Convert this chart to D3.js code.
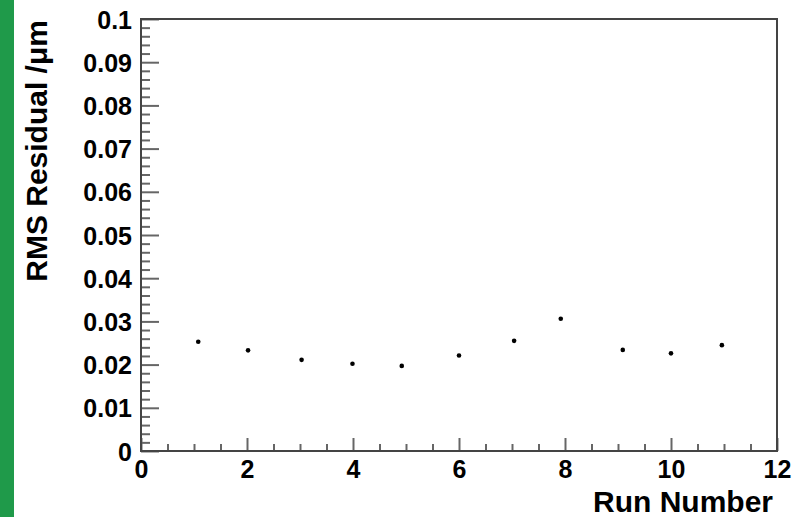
<!DOCTYPE html>
<html>
<head>
<meta charset="utf-8">
<script src="https://cdn.jsdelivr.net/npm/d3@7"></script>
<style>
  body { margin: 0; background: #fff; }
  svg { display: block; font-family: "Liberation Sans", Arial, sans-serif; font-weight: bold; }
  .tick text { font-weight: bold; fill: #000; }
</style>
</head>
<body>
<svg width="798" height="517"></svg>
<script>
// run number and rms residual
var runNumber = [1.08, 2.02, 3.03, 3.99, 4.92, 6.0, 7.04, 7.92, 9.09, 10.0, 10.96]
var rmsResidual = [0.0253, 0.0233, 0.0211, 0.0202, 0.0197, 0.0221, 0.0255, 0.0306, 0.0234, 0.0226, 0.0245]

var xMajor = [0, 2, 4, 6, 8, 10, 12]
var yMajor = [0, 0.01, 0.02, 0.03, 0.04, 0.05, 0.06, 0.07, 0.08, 0.09, 0.1]

var svg = d3.select("svg")

// green strip on the left edge
svg.append("rect")
  .attr("x", 0).attr("y", 0)
  .attr("width", 14).attr("height", 517)
  .attr("fill", "#1f9a4a")

// (window.top is read-only, so no "top" here)
var padL = 141, padR = 777, padT = 19, padB = 451

var x = d3.scaleLinear().domain([0, 12]).range([padL, padR])
var y = d3.scaleLinear().domain([0, 0.1]).range([padB, padT])

// minor ticks
var xMinor = d3.range(0, 12.01, 0.5).filter(function(d){ return d % 2 != 0 })
var yMinor = d3.range(0, 0.1001, 0.002).filter(function(d){ return Math.round(d*1000) % 10 != 0 })

svg.append("g")
  .attr("transform", `translate(0,${padB})`)
  .call(d3.axisBottom(x).tickValues(xMinor).tickSizeInner(-7).tickSizeOuter(0).tickFormat(""))
  .call(function(g){ g.select(".domain").remove() })
  .selectAll("line").attr("stroke", "#666").attr("stroke-width", 2)

svg.append("g")
  .attr("transform", `translate(${padL},0)`)
  .call(d3.axisLeft(y).tickValues(yMinor).tickSizeInner(-9).tickSizeOuter(0).tickFormat(""))
  .call(function(g){ g.select(".domain").remove() })
  .selectAll("line").attr("stroke", "#666").attr("stroke-width", 2)

// major ticks + labels
var xAxis = svg.append("g")
  .attr("transform", `translate(0,${padB})`)
  .call(d3.axisBottom(x).tickValues(xMajor).tickSizeInner(-13).tickSizeOuter(0).tickPadding(9).tickFormat(d3.format("d")))
xAxis.select(".domain").remove()
xAxis.selectAll("line").attr("stroke", "#666").attr("stroke-width", 2)
xAxis.selectAll("text").attr("font-size", 25).attr("dy", "0.72em")

var yAxis = svg.append("g")
  .attr("transform", `translate(${padL},0)`)
  .call(d3.axisLeft(y).tickValues(yMajor).tickSizeInner(-18).tickSizeOuter(0).tickPadding(9).tickFormat(function(d){ return d === 0 ? "0" : String(+d.toFixed(2)) }))
yAxis.select(".domain").remove()
yAxis.selectAll("line").attr("stroke", "#666").attr("stroke-width", 2)
yAxis.selectAll("text").attr("font-size", 25).attr("dy", "0.36em")

// frame
svg.append("rect")
  .attr("x", padL).attr("y", padT)
  .attr("width", padR - padL).attr("height", padB - padT)
  .attr("fill", "none")
  .attr("stroke", "#444")
  .attr("stroke-width", 2)

// points
svg.append("g")
  .selectAll("circle")
  .data(runNumber)
  .enter()
  .append("circle")
    .attr("cx", function(d){ return x(d) })
    .attr("cy", function(d, i){ return y(rmsResidual[i]) })
    .attr("r", 2.3)
    .attr("fill", "#000")

// axis titles
svg.append("text")
  .attr("x", 773).attr("y", 512)
  .attr("text-anchor", "end")
  .attr("font-size", 30)
  .text("Run Number")

svg.append("text")
  .attr("transform", "translate(47,20) rotate(-90)")
  .attr("text-anchor", "end")
  .attr("font-size", 30)
  .text("RMS Residual /μm")
</script>
</body>
</html>
